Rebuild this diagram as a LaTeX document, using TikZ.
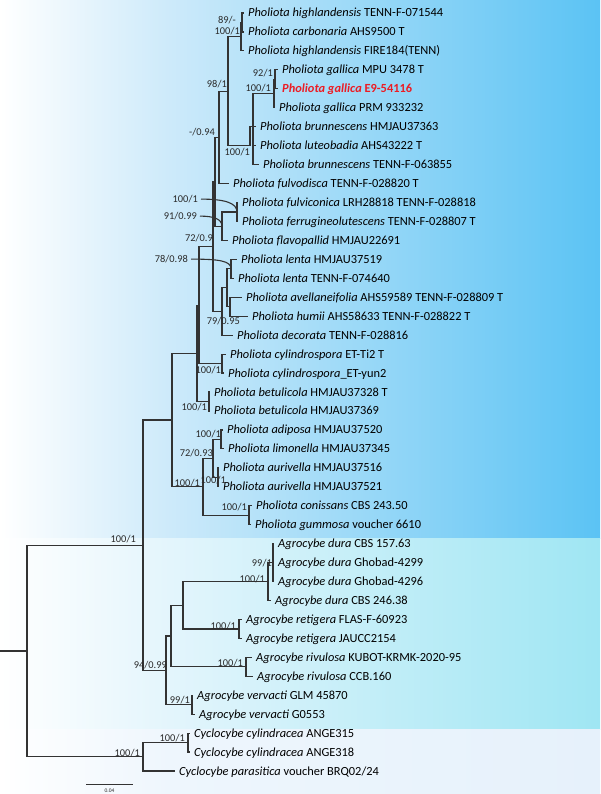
\documentclass[tikz,border=0pt]{standalone}
\usepackage{fontspec}
\setmainfont{Carlito}
\definecolor{pBa}{HTML}{CDEAFA}
\definecolor{pBb}{HTML}{5BC3F4}
\definecolor{aBa}{HTML}{E3F5FC}
\definecolor{aBb}{HTML}{9FE6F3}
\definecolor{cBa}{HTML}{EEF6FD}
\definecolor{cBb}{HTML}{E6F1FB}
\definecolor{brc}{HTML}{333333}
\definecolor{supc}{HTML}{2A2A2A}
\definecolor{galred}{HTML}{EC1C24}
\newcommand\tipfont{\fontsize{12.4}{14}\selectfont}
\newcommand\supfont{\fontsize{10.4}{12}\selectfont}
\begin{document}
\begin{tikzpicture}[x=1pt,y=-1pt,
  br/.style={draw=brc,line width=1.2pt},
  lead/.style={draw=brc,line width=1.1pt},
  tip/.style={anchor=base west,inner sep=0pt,font=\tipfont,text=black},
  sup/.style={anchor=base east,inner sep=0pt,font=\supfont,text=supc}]
\useasboundingbox (0,0) rectangle (600,794);
% backgrounds
\shade[left color=white,right color=pBa] (0,0) rectangle (170,538);
\shade[left color=pBa,right color=pBb] (170,0) rectangle (600,538);
\shade[left color=white,right color=aBa] (0,538) rectangle (170,729);
\shade[left color=aBa,right color=aBb] (170,538) rectangle (600,729);
\shade[left color=white,right color=cBa] (0,729) rectangle (170,794);
\shade[left color=cBa,right color=cBb] (170,729) rectangle (600,794);
% tip branch ends
\coordinate (e1) at (243.5,13.0);
\coordinate (e2) at (243.5,31.95);
\coordinate (e3) at (243.5,50.9);
\coordinate (e4) at (277.5,69.85);
\coordinate (e5) at (277.5,88.8);
\coordinate (e6) at (274.5,107.75);
\coordinate (e7) at (255.5,126.7);
\coordinate (e8) at (255.5,145.65);
\coordinate (e9) at (258.5,164.6);
\coordinate (e10) at (228.5,183.55);
\coordinate (e11) at (237.5,202.5);
\coordinate (e12) at (237.5,221.45);
\coordinate (e13) at (227.5,240.4);
\coordinate (e14) at (236.5,259.35);
\coordinate (e15) at (233.5,278.3);
\coordinate (e16) at (241.5,297.25);
\coordinate (e17) at (247.5,316.2);
\coordinate (e18) at (232.5,335.15);
\coordinate (e19) at (225.5,354.1);
\coordinate (e20) at (223.5,373.05);
\coordinate (e21) at (209.5,392.0);
\coordinate (e22) at (209.5,410.95);
\coordinate (e23) at (222.5,429.9);
\coordinate (e24) at (223.5,448.85);
\coordinate (e25) at (218.5,467.8);
\coordinate (e26) at (218.5,486.75);
\coordinate (e27) at (251.5,505.7);
\coordinate (e28) at (250.5,524.65);
\coordinate (e29) at (273.5,543.6);
\coordinate (e30) at (273.5,562.55);
\coordinate (e31) at (273.5,581.5);
\coordinate (e32) at (270.5,600.45);
\coordinate (e33) at (241.5,619.4);
\coordinate (e34) at (241.5,638.35);
\coordinate (e35) at (251.5,657.3);
\coordinate (e36) at (252.5,676.25);
\coordinate (e37) at (192.5,695.2);
\coordinate (e38) at (194.5,714.15);
\coordinate (e39) at (189.5,733.1);
\coordinate (e40) at (189.5,752.05);
\coordinate (e41) at (174.5,771.0);
% internal nodes
\coordinate (n89) at (242,22.5);
\coordinate (nH) at (241,36.7);
\coordinate (n92) at (275,79.3);
\coordinate (nG) at (274,93.5);
\coordinate (nB) at (253,128);
\coordinate (nX) at (250,145.65);
\coordinate (N98) at (228,91.2);
\coordinate (N094) at (219,137.4);
\coordinate (nT) at (215,181.8);
\coordinate (FF) at (237,212);
\coordinate (n91) at (222,226.2);
\coordinate (nL) at (231,268.8);
\coordinate (nAH) at (230,306.7);
\coordinate (nW) at (227,287.8);
\coordinate (nV) at (222,311.5);
\coordinate (nU) at (213,246.6);
\coordinate (nC) at (222,363.6);
\coordinate (nR) at (199,305.1);
\coordinate (nBet) at (209,401.5);
\coordinate (nQ) at (197,353.3);
\coordinate (nAdi) at (221,439.4);
\coordinate (nAur) at (218,477.3);
\coordinate (n7293) at (213,458.3);
\coordinate (nCon) at (249,515.2);
\coordinate (X2) at (203,486.8);
\coordinate (Pc) at (172,420);
\coordinate (D1) at (273,562.6);
\coordinate (D0) at (268,581.5);
\coordinate (nRet) at (239,628.9);
\coordinate (nE) at (183,605.2);
\coordinate (nRiv) at (246,666.8);
\coordinate (nF) at (171,636);
\coordinate (nVer) at (192,704.7);
\coordinate (nGg) at (166,670.3);
\coordinate (PA) at (143,545.2);
\coordinate (nCyl) at (188,742.6);
\coordinate (Cy) at (143,756.8);
\coordinate (Root) at (27,651);
\coordinate (rs) at (0,651);
% branches
\draw[br] (e1) -| (n89) |- (e2);
\draw[br] (n89) -| (nH) |- (e3);
\draw[br] (e4) -| (n92) |- (e5);
\draw[br] (n92) -| (nG) |- (e6);
\draw[br] (nG) -| (nB) |- (e9);
\draw[br] (nB) |- (e7);
\draw[br] (nB) |- (e8);
\draw[br] (nH) -| (N98) |- (nX);
\draw[br] (nX) |- (e7);
\draw[br] (N98) -| (N094) |- (e10);
\draw[br] (e11) -| (FF) |- (e12);
\draw[br] (FF) -| (n91) |- (e13);
\draw[br] (N094) -| (nT) |- (n91);
\draw[br] (e14) -| (nL) |- (e15);
\draw[br] (e16) -| (nAH) |- (e17);
\draw[br] (nL) -| (nW) |- (nAH);
\draw[br] (nW) -| (nV) |- (e18);
\draw[br] (nT) -| (nU) |- (nV);
\draw[br] (e19) -| (nC) |- (e20);
\draw[br] (nU) -| (nR) |- (nC);
\draw[br] (e21) -| (nBet) |- (e22);
\draw[br] (nR) -| (nQ) |- (nBet);
\draw[br] (e23) -| (nAdi) |- (e24);
\draw[br] (e25) -| (nAur) |- (e26);
\draw[br] (nAdi) -| (n7293) |- (nAur);
\draw[br] (e27) -| (nCon) |- (e28);
\draw[br] (n7293) -| (X2) |- (nCon);
\draw[br] (nQ) -| (Pc) |- (X2);
\draw[br] (e29) -| (D1) |- (e31);
\draw[br] (D1) |- (e30);
\draw[br] (D1) -| (D0) |- (e32);
\draw[br] (e33) -| (nRet) |- (e34);
\draw[br] (D0) -| (nE) |- (nRet);
\draw[br] (e35) -| (nRiv) |- (e36);
\draw[br] (nE) -| (nF) |- (nRiv);
\draw[br] (e37) -| (nVer) |- (e38);
\draw[br] (nF) -| (nGg) |- (nVer);
\draw[br] (Pc) -| (PA) |- (nGg);
\draw[br] (e39) -| (nCyl) |- (e40);
\draw[br] (nCyl) -| (Cy) |- (e41);
\draw[br] (PA) -| (Root) |- (Cy);
\draw[br] (rs) -- (Root);
% tip labels
\node[tip] (t1) at ([shift={(4.5,4)}]e1) {\textit{Pholiota highlandensis} TENN-F-071544};
\node[tip] (t2) at ([shift={(4.5,4)}]e2) {\textit{Pholiota carbonaria} AHS9500 T};
\node[tip] (t3) at ([shift={(4.5,4)}]e3) {\textit{Pholiota highlandensis} FIRE184(TENN)};
\node[tip] (t4) at ([shift={(4.5,4)}]e4) {\textit{Pholiota gallica} MPU 3478 T};
\node[tip,text=galred] (t5) at ([shift={(4.5,4)}]e5) {\textbf{\textit{Pholiota gallica} E9-54116}};
\node[tip] (t6) at ([shift={(4.5,4)}]e6) {\textit{Pholiota gallica} PRM 933232};
\node[tip] (t7) at ([shift={(4.5,4)}]e7) {\textit{Pholiota brunnescens} HMJAU37363};
\node[tip] (t8) at ([shift={(4.5,4)}]e8) {\textit{Pholiota luteobadia} AHS43222 T};
\node[tip] (t9) at ([shift={(4.5,4)}]e9) {\textit{Pholiota brunnescens} TENN-F-063855};
\node[tip] (t10) at ([shift={(4.5,4)}]e10) {\textit{Pholiota fulvodisca} TENN-F-028820 T};
\node[tip] (t11) at ([shift={(4.5,4)}]e11) {\textit{Pholiota fulviconica} LRH28818 TENN-F-028818};
\node[tip] (t12) at ([shift={(4.5,4)}]e12) {\textit{Pholiota ferrugineolutescens} TENN-F-028807 T};
\node[tip] (t13) at ([shift={(4.5,4)}]e13) {\textit{Pholiota flavopallid} HMJAU22691};
\node[tip] (t14) at ([shift={(4.5,4)}]e14) {\textit{Pholiota lenta} HMJAU37519};
\node[tip] (t15) at ([shift={(4.5,4)}]e15) {\textit{Pholiota lenta} TENN-F-074640};
\node[tip] (t16) at ([shift={(4.5,4)}]e16) {\textit{Pholiota avellaneifolia} AHS59589 TENN-F-028809 T};
\node[tip] (t17) at ([shift={(4.5,4)}]e17) {\textit{Pholiota humii} AHS58633 TENN-F-028822 T};
\node[tip] (t18) at ([shift={(4.5,4)}]e18) {\textit{Pholiota decorata} TENN-F-028816};
\node[tip] (t19) at ([shift={(4.5,4)}]e19) {\textit{Pholiota cylindrospora} ET-Ti2 T};
\node[tip] (t20) at ([shift={(4.5,4)}]e20) {\textit{Pholiota cylindrospora}\_ET-yun2};
\node[tip] (t21) at ([shift={(4.5,4)}]e21) {\textit{Pholiota betulicola} HMJAU37328 T};
\node[tip] (t22) at ([shift={(4.5,4)}]e22) {\textit{Pholiota betulicola} HMJAU37369};
\node[tip] (t23) at ([shift={(4.5,4)}]e23) {\textit{Pholiota adiposa} HMJAU37520};
\node[tip] (t24) at ([shift={(4.5,4)}]e24) {\textit{Pholiota limonella} HMJAU37345};
\node[tip] (t25) at ([shift={(4.5,4)}]e25) {\textit{Pholiota aurivella} HMJAU37516};
\node[tip] (t26) at ([shift={(4.5,4)}]e26) {\textit{Pholiota aurivella} HMJAU37521};
\node[tip] (t27) at ([shift={(4.5,4)}]e27) {\textit{Pholiota conissans} CBS 243.50};
\node[tip] (t28) at ([shift={(4.5,4)}]e28) {\textit{Pholiota gummosa} voucher 6610};
\node[tip] (t29) at ([shift={(4.5,4)}]e29) {\textit{Agrocybe dura} CBS 157.63};
\node[tip] (t30) at ([shift={(4.5,4)}]e30) {\textit{Agrocybe dura} Ghobad-4299};
\node[tip] (t31) at ([shift={(4.5,4)}]e31) {\textit{Agrocybe dura} Ghobad-4296};
\node[tip] (t32) at ([shift={(4.5,4)}]e32) {\textit{Agrocybe dura} CBS 246.38};
\node[tip] (t33) at ([shift={(4.5,4)}]e33) {\textit{Agrocybe retigera} FLAS-F-60923};
\node[tip] (t34) at ([shift={(4.5,4)}]e34) {\textit{Agrocybe retigera} JAUCC2154};
\node[tip] (t35) at ([shift={(4.5,4)}]e35) {\textit{Agrocybe rivulosa} KUBOT-KRMK-2020-95};
\node[tip] (t36) at ([shift={(4.5,4)}]e36) {\textit{Agrocybe rivulosa} CCB.160};
\node[tip] (t37) at ([shift={(4.5,4)}]e37) {\textit{Agrocybe vervacti} GLM 45870};
\node[tip] (t38) at ([shift={(4.5,4)}]e38) {\textit{Agrocybe vervacti} G0553};
\node[tip] (t39) at ([shift={(4.5,4)}]e39) {\textit{Cyclocybe cylindracea} ANGE315};
\node[tip] (t40) at ([shift={(4.5,4)}]e40) {\textit{Cyclocybe cylindracea} ANGE318};
\node[tip] (t41) at ([shift={(4.5,4)}]e41) {\textit{Cyclocybe parasitica} voucher BRQ02/24};
% support values
\node[sup] (s1) at (236,23.5) {89/-};
\node[sup] (s2) at (240,34.5) {100/1};
\node[sup] (s3) at (273,76.5) {92/1};
\node[sup] (s4) at (271,91.5) {100/1};
\node[sup] (s5) at (227,87.5) {98/1};
\node[sup] (s6) at (215,135.5) {-/0.94};
\node[sup] (s7) at (250,155.5) {100/1};
\node[sup] (s8) at (198,202.5) {100/1};
\node[sup] (s9) at (197,219.5) {91/0.99};
\node[sup] (s10) at (213,241.5) {72/0.9};
\node[sup] (s11) at (188,262.5) {78/0.98};
\node[sup] (s12) at (240,324.5) {79/0.95};
\node[sup] (s13) at (221,373.5) {100/1};
\node[sup] (s14) at (207,410.5) {100/1};
\node[sup] (s15) at (221,437.5) {100/1};
\node[sup] (s16) at (213,456.5) {72/0.93};
\node[sup] (s17) at (226,483.5) {100/1};
\node[sup] (s18) at (200,486.5) {100/1};
\node[sup] (s19) at (247,510.5) {100/1};
\node[sup] (s20) at (136,542.5) {100/1};
\node[sup] (s21) at (272,566.5) {99/1};
\node[sup] (s22) at (265,582.5) {100/1};
\node[sup] (s23) at (236,629.5) {100/1};
\node[sup] (s24) at (243,666.5) {100/1};
\node[sup] (s25) at (167,668.5) {94/0.99};
\node[sup] (s26) at (190,703.5) {99/1};
\node[sup] (s27) at (185,741.5) {100/1};
\node[sup] (s28) at (140,756.5) {100/1};
% leader lines
\draw[lead] ([xshift=3pt]s8.east) .. controls +(24,0) and +(0,-9) .. (FF);
\draw[lead] ([xshift=3pt]s9.east) .. controls +(14,0) and +(0,-7) .. (n91);
\draw[lead] ([xshift=3pt]s11.east) .. controls +(28,0) and +(0,-8) .. (nL);
% scale bar
\coordinate (sb1) at (86,784);
\coordinate (sb2) at (133,784);
\draw[br,line width=1pt] (sb1) -- (sb2);
\node[font=\fontsize{5.5}{6}\selectfont,inner sep=0pt,text=supc] (sbl) at (109.5,791) {0.04};
\end{tikzpicture}
\end{document}
